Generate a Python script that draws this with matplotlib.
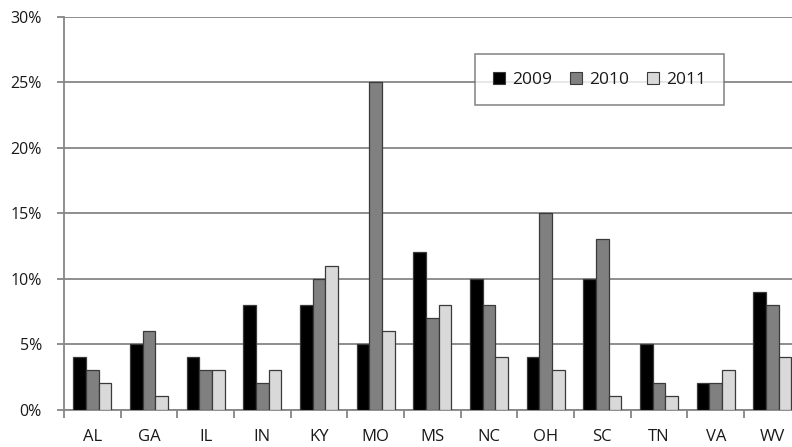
import numpy as np
import matplotlib.pyplot as plt
from matplotlib.ticker import FixedLocator, PercentFormatter
from matplotlib.lines import Line2D

states = ["AL", "GA", "IL", "IN", "KY", "MO", "MS", "NC", "OH", "SC", "TN", "VA", "WV"]
y2009 = [4, 5, 4, 8, 8, 5, 12, 10, 4, 10, 5, 2, 9]
y2010 = [3, 6, 3, 2, 10, 25, 7, 8, 15, 13, 2, 2, 8]
y2011 = [2, 1, 3, 3, 11, 6, 8, 4, 3, 1, 1, 3, 4]
years = ["2009", "2010", "2011"]
colors = ["#000000", "#808080", "#d9d9d9"]

plt.rcParams['font.family'] = ['Open Sans', 'DejaVu Sans']

fig = plt.figure(figsize=(7.92, 4.47), dpi=100)
# plot area runs a little past the right edge of the figure
ax = fig.add_axes([64 / 792, 37.5 / 447, 736.7 / 792, 392.5 / 447])

x = np.arange(len(states))
w = 0.224
for i, (vals, c) in enumerate(zip([y2009, y2010, y2011], colors)):
    ax.bar(x + (i - 1) * w, vals, width=w, color=c, edgecolor="#3a3a3a",
           linewidth=0.9, zorder=3)

ax.set_xlim(-0.5, len(states) - 0.5)
ax.set_ylim(0, 30)
ax.set_yticks(range(0, 31, 5))
ax.yaxis.set_major_formatter(PercentFormatter(decimals=0))
ax.grid(axis="y", color="#868686", linewidth=1.3, zorder=0)

ax.set_xticks(x)
ax.set_xticklabels(states)
ax.xaxis.set_minor_locator(FixedLocator(np.arange(-0.5, len(states), 1)))
ax.tick_params(axis="x", which="major", length=0, pad=14, labelsize=12, colors="#1a1a1a")
ax.tick_params(axis="x", which="minor", length=6, width=1.3, color="#868686")
ax.tick_params(axis="y", length=5, width=1.3, color="#868686", pad=11,
               labelsize=11.5, labelcolor="#1a1a1a")

for side in ["top", "right"]:
    ax.spines[side].set_visible(False)
for side in ["left", "bottom"]:
    ax.spines[side].set_color("#868686")
    ax.spines[side].set_linewidth(1.3)

handles = [Line2D([], [], marker="s", linestyle="none", markersize=8,
                  markerfacecolor=c, markeredgecolor="#3a3a3a", markeredgewidth=0.8)
           for c in colors]
leg = fig.legend(handles, years, ncol=3, loc="center",
                 bbox_to_anchor=(599.5 / 792, 1 - 79.5 / 447),
                 bbox_transform=fig.transFigure, fontsize=12.5,
                 frameon=True, fancybox=False, handlelength=0.7,
                 handletextpad=0.4, columnspacing=1.05, borderpad=1.0,
                 borderaxespad=0)
leg.get_frame().set_edgecolor("#6e6e6e")
leg.get_frame().set_linewidth(1.2)
for t in leg.get_texts():
    t.set_color("#1a1a1a")

fig.savefig("out.png", dpi=100)
